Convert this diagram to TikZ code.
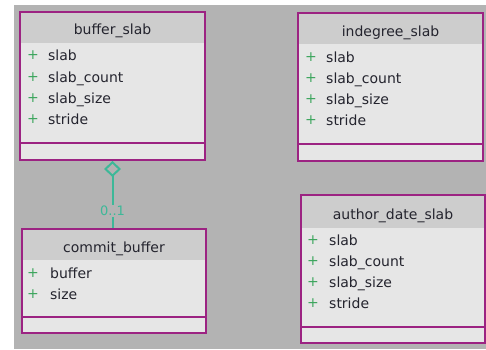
\documentclass[tikz,border=0pt]{standalone}
\usepackage{fontspec}
\setmainfont{DejaVu Sans}
\usetikzlibrary{arrows.meta}

\definecolor{canvas}{HTML}{B3B3B3}
\definecolor{bodyfill}{HTML}{E6E6E6}
\definecolor{headfill}{HTML}{CDCDCD}
\definecolor{frame}{HTML}{9C2382}
\definecolor{assoc}{HTML}{3DB898}
\definecolor{plusgreen}{HTML}{3BA55C}
\definecolor{ink}{HTML}{24242E}

\tikzset{
  classbox/.style={fill=bodyfill, inner sep=0pt, outer sep=0pt},
  frameline/.style={draw=frame, line width=2.6pt},
  headtext/.style={font=\fontsize{14}{16}\selectfont, text=ink, inner sep=0pt, anchor=base},
  attrtext/.style={font=\fontsize{14}{16}\selectfont, text=ink, inner sep=0pt, anchor=base west},
  plusmark/.style={font=\fontsize{14}{16}\selectfont, text=plusgreen, inner sep=0pt, anchor=center},
  multlabel/.style={font=\fontsize{13}{15}\selectfont, text=assoc, fill=canvas, inner sep=1pt, anchor=center},
}

% one class box: #1 name, #2/#3 top-left, #4/#5 bottom-right, #6 header bottom, #7 separator
\newcommand{\classframe}[7]{%
  \node[classbox, minimum width={#4-#2}, minimum height={#5-#3}, anchor=north west] (#1) at (#2,#3) {};
  \fill[headfill] (#2+1,#3+1) rectangle (#4-1,#6);
  \draw[frameline] (#2,#3) rectangle (#4,#5);
  \draw[frameline] (#2,#7) -- (#4,#7);
}

\begin{document}
\begin{tikzpicture}[x=1pt,y=-1pt]
  \useasboundingbox (0,0) rectangle (486,349);
  \fill[white] (0,0) rectangle (486,349);
  \fill[canvas] (14,5) rectangle (486,349);

  % buffer_slab
  \classframe{bs}{20}{12}{205}{160}{43}{143}
  \node[headtext] (bs-title) at (112.5,34) {buffer\_slab};
  \foreach \y/\t [count=\i] in {55/slab, 77/slab\_count, 98/slab\_size, 119/stride} {
    \node[plusmark] (bs-p\i) at (33,\y) {+};
    \node[attrtext] (bs-a\i) at (48,\y+5.5) {\t};
  }

  % indegree_slab
  \classframe{is}{298}{13}{483}{161}{44}{144}
  \node[headtext] (is-title) at (390.5,36) {indegree\_slab};
  \foreach \y/\t [count=\i] in {57/slab, 78/slab\_count, 99/slab\_size, 120/stride} {
    \node[plusmark] (is-p\i) at (311,\y) {+};
    \node[attrtext] (is-a\i) at (326,\y+5.5) {\t};
  }

  % commit_buffer
  \classframe{cb}{22}{229}{206}{333}{260}{317}
  \node[headtext] (cb-title) at (114,252) {commit\_buffer};
  \foreach \y/\t [count=\i] in {273/buffer, 294/size} {
    \node[plusmark] (cb-p\i) at (33,\y) {+};
    \node[attrtext] (cb-a\i) at (50,\y+5.5) {\t};
  }

  % author_date_slab
  \classframe{ads}{301}{195}{485}{343}{228}{327}
  \node[headtext] (ads-title) at (393,219) {author\_date\_slab};
  \foreach \y/\t [count=\i] in {240/slab, 261/slab\_count, 282/slab\_size, 303/stride} {
    \node[plusmark] (ads-p\i) at (313,\y) {+};
    \node[attrtext] (ads-a\i) at (329,\y+5.5) {\t};
  }

  % aggregation from commit_buffer to buffer_slab
  \coordinate (agg-top) at (112.5,161);
  \coordinate (agg-bot) at (112.5,228);
  \draw[assoc, line width=2pt,
        {Diamond[open, length=16pt, width=17pt, line width=2pt]}-] (agg-top) -- (agg-bot);
  \node[multlabel] (mult) at (112.5,211) {0..1};
\end{tikzpicture}
\end{document}
